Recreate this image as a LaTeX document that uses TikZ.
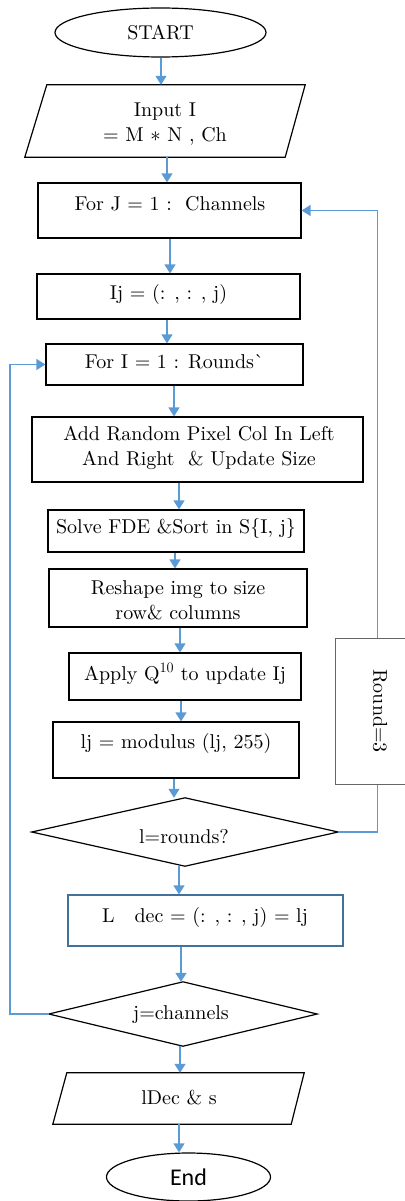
\documentclass[tikz,border=0pt]{standalone}
\usepackage{fontspec}
\setmainfont{lmroman10-regular}[Extension=.otf,BoldFont=lmroman10-bold,ItalicFont=lmroman10-italic,BoldItalicFont=lmroman10-bolditalic]
\newfontfamily\calfont{Carlito}
\usetikzlibrary{shapes.geometric,arrows.meta,calc}
\definecolor{flow}{RGB}{91,155,213}
\definecolor{ldecblue}{RGB}{65,113,156}
\begin{document}
\begin{tikzpicture}[x=1pt,y=-1pt,
  font=\fontsize{20}{25}\selectfont,
  box/.style={draw=black,line width=1.2pt,fill=white,inner sep=0pt},
  frame/.style={inner sep=0pt},
  shapeline/.style={draw=black,line width=1.2pt},
  txt/.style={inner sep=0pt,align=center},
  arr/.style={draw=flow,line width=1.4pt,-{Triangle[width=11pt,length=9pt]}},
  loop/.style={draw=flow,line width=1.4pt}]
\useasboundingbox (0,0) rectangle (404,1201);

% START
\node[ellipse,draw=black,line width=1.2pt,inner sep=0pt,minimum width=211pt,minimum height=49pt] (start) at (160.5,32.5) {START};

% Input parallelogram
\node[frame,minimum width=280pt,minimum height=72pt] (in) at (165,121) {};
\draw[shapeline] (in.south west) -- ($(in.south east)+(-20,0)$) -- (in.north east) -- ($(in.north west)+(22,0)$) -- cycle;
\node[txt] (intxt) at (165,124) {Input I\\= M $\ast$ N , Ch};

% For J
\node[box,minimum width=263pt,minimum height=55pt] (forj) at (169.5,210.5) {};
\node[txt] (forjtxt) at (170,204) {For J = 1 :\ \ Channels};

% Ij
\node[box,minimum width=263pt,minimum height=45pt] (ij) at (168.5,296.5) {};
\node[txt] (ijtxt) at (168.5,294) {Ij = (: , : , j)};

% For I
\node[box,minimum width=257pt,minimum height=41pt] (fori) at (174.5,364.5) {};
\node[txt] (foritxt) at (174.5,362) {For I = 1 : Rounds\textasciigrave};

% Add random
\node[box,minimum width=331pt,minimum height=65pt] (add) at (197.5,449.5) {};
\node[txt] (addtxt) at (199,447.5) {Add Random Pixel Col In Left\\And Right \ \& Update Size};

% Solve
\node[box,minimum width=256pt,minimum height=42pt] (solve) at (176,531) {};
\node[txt] (solvetxt) at (176,528) {Solve FDE \&Sort in S\{I, j\}};

% Reshape
\node[box,minimum width=258pt,minimum height=58pt] (reshape) at (178,598) {};
\node[txt] (reshapetxt) at (178,600) {Reshape img to size\\row\& columns};

% Apply
\node[box,minimum width=232pt,minimum height=47pt] (apply) at (185,676.5) {};
\node[txt] (applytxt) at (185,674) {Apply Q$^{10}$ to update Ij};

% modulus
\node[box,minimum width=246pt,minimum height=56pt] (mod) at (176,750) {};
\node[txt] (modtxt) at (176,743) {lj = modulus (lj, 255)};

% rounds diamond
\node[frame,minimum width=306pt,minimum height=68pt] (rounds) at (185,832) {};
\draw[shapeline] (rounds.west) -- (rounds.north) -- (rounds.east) -- (rounds.south) -- cycle;
\node[txt] (roundstxt) at (184,837) {l=rounds?};

% right loop (behind Round=3 box)
\draw[arr] (rounds.east) -- ++(39,0) |- (forj.east);

% Round=3 box
\node[draw=black!60,line width=1pt,fill=white,inner sep=0pt,minimum width=75pt,minimum height=146pt] (round3) at (372.5,711) {};
\node[txt,rotate=-90] (round3txt) at (380,711) {Round=3};

% L dec
\node[draw=ldecblue,line width=1.2pt,fill=white,inner sep=0pt,minimum width=275pt,minimum height=51pt] (ldec) at (205.5,920.5) {};
\node[txt] (ldectxt) at (205,917) {L \ \ dec = (: , : , j) = lj};

% channels diamond
\node[frame,minimum width=268pt,minimum height=64pt] (chan) at (183,1014) {};
\draw[shapeline] (chan.west) -- (chan.north) -- (chan.east) -- (chan.south) -- cycle;
\node[txt] (chantxt) at (181,1015) {j=channels};

% left loop
\draw[arr] (chan.west) -- ++(-39,0) |- (fori.west);

% output parallelogram
\node[frame,minimum width=251pt,minimum height=51pt] (out) at (178.5,1098.5) {};
\draw[shapeline] (out.south west) -- ($(out.south east)+(-13,0)$) -- (out.north east) -- ($(out.north west)+(14,0)$) -- cycle;
\node[txt] (outtxt) at (179,1098) {lDec \& s};

% End
\node[ellipse,draw=black,line width=1.2pt,inner sep=0pt,minimum width=164pt,minimum height=48pt,font=\calfont\fontsize{24}{28}\selectfont] (end) at (188.5,1177) {End};

% vertical connectors
\draw[arr] (start.south -| 161,0) -- (in.north -| 161,0);
\draw[arr] (in.south -| 167,0) -- (forj.north -| 167,0);
\draw[arr] (forj.south -| 170,0) -- (ij.north -| 170,0);
\draw[arr] (ij.south -| 167,0) -- (fori.north -| 167,0);
\draw[arr] (fori.south -| 174,0) -- (add.north -| 174,0);
\draw[arr] (add.south -| 179,0) -- (solve.north -| 179,0);
\draw[arr] (solve.south -| 175,0) -- (reshape.north -| 175,0);
\draw[arr] (reshape.south -| 180,0) -- (apply.north -| 180,0);
\draw[arr] (apply.south -| 181,0) -- (mod.north -| 181,0);
\draw[arr] (mod.south -| 174,0) -- (rounds.north -| 174,0);
\draw[arr] (rounds.south -| 179,0) -- (ldec.north -| 179,0);
\draw[arr] (ldec.south -| 181,0) -- (chan.north -| 181,0);
\draw[arr] (chan.south -| 180,0) -- (out.north -| 180,0);
\draw[arr] (out.south -| 179,0) -- (end.north -| 179,0);
\end{tikzpicture}
\end{document}
